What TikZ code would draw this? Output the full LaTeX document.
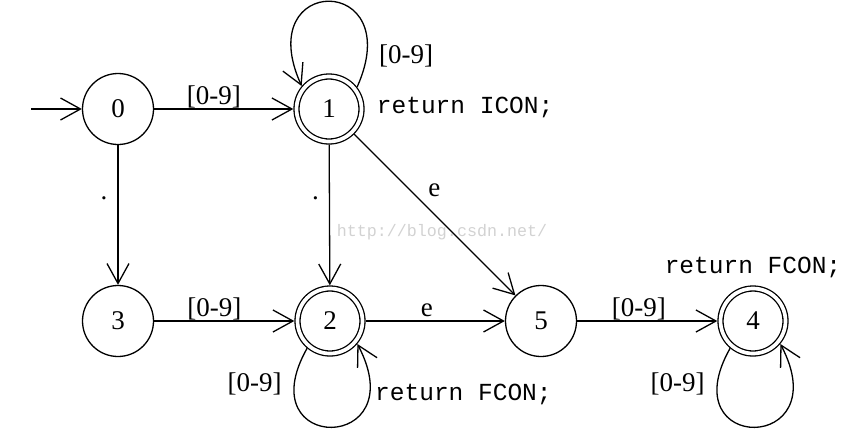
\documentclass[tikz,border=0pt]{standalone}
\usepackage{fontspec}
\setmainfont{Liberation Serif}
\newfontfamily\monofont{Liberation Mono}
\usetikzlibrary{arrows.meta}
\begin{document}
\begin{tikzpicture}[x=1pt,y=-1pt,
  every node/.style={font=\fontsize{27}{30}\selectfont},
  st/.style={circle, draw, line width=1.3pt, minimum size=71pt, inner sep=0pt},
  acc/.style={circle, draw, line width=1.3pt, double, double distance=3.7pt, minimum size=65pt, inner sep=0pt, outer sep=3.2pt},
  edge/.style={line width=1.3pt, -{Straight Barb[length=20pt,width=22pt]}},
  lbl/.style={inner sep=0pt},
  mono/.style={font=\monofont\fontsize{24.5}{28}\selectfont, inner sep=0pt},
  wmark/.style={font=\monofont\fontsize{16.7}{20}\selectfont, text=gray!35, inner sep=0pt}
]
\useasboundingbox (0,0) rectangle (865,440);
\node[wmark] (wm) at (442,232) {http://blog.csdn.net/};
\node[st] (n0) at (118,109) {0};
\node[acc] (n1) at (329,109) {1};
\node[st] (n3) at (118,321) {3};
\node[acc] (n2) at (330,321) {2};
\node[st] (n5) at (541,321) {5};
\node[acc] (n4) at (753,321) {4};
\coordinate (start) at (31,109);

\draw[edge] (start) -- (n0);
\draw[edge] (n0) -- node[lbl,pos=0.43,anchor=south]{[0-9]} (n1);
\draw[edge] (n0) -- node[lbl,pos=0.38,left=10pt]{.} (n3);
\draw[edge] (n1) -- node[lbl,pos=0.38,left=10pt]{.} (n2);
\draw[edge] (n1) -- node[lbl,pos=0.35,right=17pt]{e} (n5);
\draw[edge] (n3) -- node[lbl,pos=0.43,anchor=south]{[0-9]} (n2);
\draw[edge] (n2) -- node[lbl,pos=0.44,anchor=south,yshift=4pt]{e} (n5);
\draw[edge] (n5) -- node[lbl,pos=0.44,anchor=south]{[0-9]} (n4);

\draw[edge] (n1.38) .. controls +(51,-114) and +(-51,-113) .. node[lbl,pos=0.1,right=12pt]{[0-9]} (n1.140);
\draw[edge] (n2.-130) .. controls +(-60,106) and +(58,110) .. node[lbl,pos=0.13,left=12pt]{[0-9]} (n2.-40);
\draw[edge] (n4.-130) .. controls +(-60,106) and +(58,110) .. node[lbl,pos=0.13,left=12pt]{[0-9]} (n4.-40);

\node[mono, anchor=base west] (r1) at ([xshift=12pt,yshift=-4pt]n1.east) {return ICON;};
\node[mono, anchor=base west] (r2) at ([xshift=45pt,yshift=-79pt]n2.center) {return FCON;};
\node[mono, anchor=base] (r4) at ([yshift=48pt]n4.center) {return FCON;};
\end{tikzpicture}
\end{document}
